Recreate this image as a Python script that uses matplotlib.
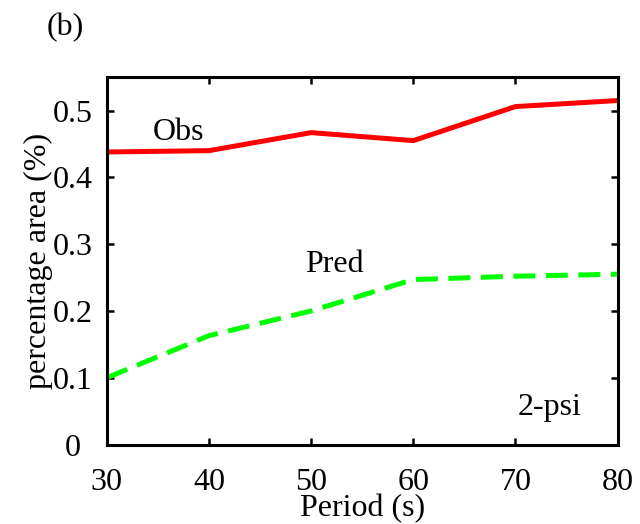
"""Percentage area vs period: observed and predicted (2-psi)."""

import matplotlib
matplotlib.use("Agg")
import matplotlib.pyplot as plt
from matplotlib.transforms import ScaledTranslation

plt.rcParams["font.family"] = ["Liberation Serif", "DejaVu Serif"]

# data
period = [30, 40, 50, 60, 70, 80]
obs = [0.438, 0.440, 0.467, 0.455, 0.506, 0.515]
pred = [0.100, 0.163, 0.200, 0.247, 0.252, 0.255]
xticks = [30, 40, 50, 60, 70, 80]
yticks = [0, 0.1, 0.2, 0.3, 0.4, 0.5]
ytick_labels = ["0", "0.1", "0.2", "0.3", "0.4", "0.5"]

fs = 23

fig = plt.figure(figsize=(6.4, 5.24), dpi=100)
ax = fig.add_axes([0.167, 0.1517, 0.798, 0.701])

ax.plot(period, obs, color="#ff0000", lw=3.6, solid_capstyle="butt")
ax.plot(period, pred, color="#00ff00", lw=3.6, dashes=(4.4, 2.1))

ax.set_xlim(30, 80)
ax.set_ylim(0, 0.55)
ax.set_xticks(xticks)
ax.set_yticks(yticks)
ax.set_yticklabels(ytick_labels)
ax.tick_params(direction="in", top=True, right=True, labelsize=fs, width=1.8,
               length=5)
ax.tick_params(axis="x", pad=17)
ax.tick_params(axis="y", pad=10)
for s in ax.spines.values():
    s.set_linewidth(2.2)

# the "0" label sits a bit further left in the original
lab0 = ax.get_yticklabels()[0]
lab0.set_transform(lab0.get_transform() + ScaledTranslation(-12 / 100, 0, fig.dpi_scale_trans))

ax.set_xlabel("Period (s)", fontsize=fs, labelpad=-2)
ax.set_ylabel("percentage area (%)", fontsize=fs, labelpad=0)

ax.text(37.0, 0.467, "Obs", fontsize=fs, ha="center", va="center")
ax.text(52.3, 0.269, "Pred", fontsize=fs, ha="center", va="center")
ax.text(73.35, 0.056, "2-psi", fontsize=fs, ha="center", va="center")
fig.text(65 / 640, 1 - 28 / 524, "(b)", fontsize=fs, ha="center", va="center")

fig.savefig("out.png", dpi=100)
